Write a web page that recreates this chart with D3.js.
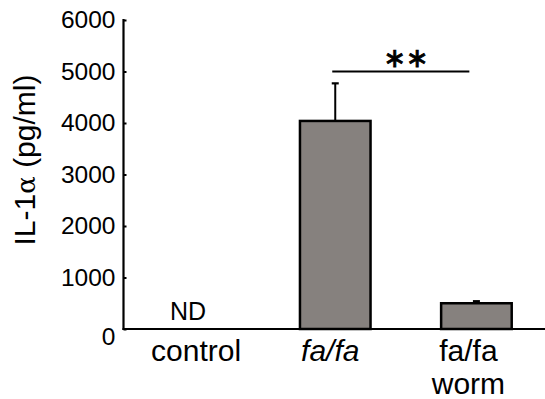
<!DOCTYPE html>
<html>
<head>
<meta charset="utf-8">
<script src="https://cdn.jsdelivr.net/npm/d3@7"></script>
<style>
  body { margin: 0; background: #fff; }
  svg text { font-family: Arial, "Liberation Sans", Helvetica, sans-serif; fill: #000; }
</style>
</head>
<body>
<script>
// data
var groups = ['control', 'fa/fa', 'fa/fa worm'];
var means = [0, 4040, 500];
var errs = [0, 730, 40];
var yTicks = [0, 1000, 2000, 3000, 4000, 5000, 6000];

var width = 545, height = 399;
var svg = d3.select('body').append('svg')
  .attr('width', width)
  .attr('height', height);

var x = d3.scaleBand().domain(groups)
  .range([123.5, 547]).paddingInner(0.5).paddingOuter(0.25);
var y = d3.scaleLinear().domain([0, 6000]).range([329, 20]);

// y axis, small ticks pointing inward
var yAxis = svg.append('g').attr('transform', 'translate(123.5,0)')
  .call(d3.axisRight(y).tickValues(yTicks).tickSize(3).tickFormat(d3.format('d')));
yAxis.select('.domain').remove();
yAxis.selectAll('line').attr('stroke', '#000').attr('stroke-width', 2);
yAxis.selectAll('text')
  .attr('x', -8).attr('text-anchor', 'end')
  .style('font-size', '24.5px');
yAxis.selectAll('.tick').filter(function (d) { return d === 0; })
  .select('text').attr('dy', '0.62em');
svg.append('line')
  .attr('x1', 123.5).attr('x2', 123.5)
  .attr('y1', y(6000) - 1).attr('y2', y(0) + 1)
  .attr('stroke', '#000').attr('stroke-width', 2.2);
svg.append('line')
  .attr('x1', 122.5).attr('x2', 545)
  .attr('y1', y(0)).attr('y2', y(0))
  .attr('stroke', '#000').attr('stroke-width', 2.2);

// bars (control not detected)
var barData = groups.map(function (g, i) { return { g: g, v: means[i], e: errs[i] }; })
  .filter(function (d) { return d.v > 0; });

svg.selectAll('.err').data(barData).enter().append('line')
  .attr('x1', function (d) { return x(d.g) + x.bandwidth() / 2; })
  .attr('x2', function (d) { return x(d.g) + x.bandwidth() / 2; })
  .attr('y1', function (d) { return y(d.v); })
  .attr('y2', function (d) { return y(d.v + d.e); })
  .attr('stroke', '#000').attr('stroke-width', 2);
svg.selectAll('.cap').data(barData).enter().append('line')
  .attr('x1', function (d) { return x(d.g) + x.bandwidth() / 2 - 3.5; })
  .attr('x2', function (d) { return x(d.g) + x.bandwidth() / 2 + 3.5; })
  .attr('y1', function (d) { return y(d.v + d.e); })
  .attr('y2', function (d) { return y(d.v + d.e); })
  .attr('stroke', '#000').attr('stroke-width', 2.2);

svg.selectAll('.bar').data(barData).enter().append('rect')
  .attr('x', function (d) { return x(d.g); })
  .attr('y', function (d) { return y(d.v); })
  .attr('width', x.bandwidth())
  .attr('height', function (d) { return y(0) - y(d.v); })
  .attr('fill', '#86817e')
  .attr('stroke', '#000').attr('stroke-width', 2.5);

svg.append('text')
  .attr('x', x('control') + x.bandwidth() / 2 - 6)
  .attr('y', 320)
  .attr('text-anchor', 'middle')
  .style('font-size', '25px')
  .text('ND');

// significance bracket
var sx1 = x('fa/fa') + x.bandwidth() / 2 - 3;
var sx2 = x('fa/fa worm') + x.bandwidth() * 0.4;
svg.append('line')
  .attr('x1', sx1).attr('x2', sx2)
  .attr('y1', 71.5).attr('y2', 71.5)
  .attr('stroke', '#000').attr('stroke-width', 2);
svg.append('text')
  .attr('x', 406).attr('y', 67)
  .attr('text-anchor', 'middle')
  .style('font-family', '"DejaVu Sans", sans-serif')
  .style('font-size', '27px')
  .style('stroke', '#000').style('stroke-width', 0.8)
  .text('\u2217\u2217');

// category labels
var labelLines = [['control'], ['fa/fa'], ['fa/fa', 'worm']];
var labelShift = [2, -5, -8];
groups.forEach(function (g, i) {
  var t = svg.append('text')
    .attr('x', x(g) + x.bandwidth() / 2 + labelShift[i])
    .attr('y', 361)
    .attr('text-anchor', 'middle')
    .style('font-size', '30px')
    .style('font-style', i === 1 ? 'italic' : 'normal');
  labelLines[i].forEach(function (s, j) {
    t.append('tspan')
      .attr('x', x(g) + x.bandwidth() / 2 + labelShift[i])
      .attr('dy', j === 0 ? 0 : 33)
      .text(s);
  });
});

// y label
var yl = svg.append('text')
  .attr('transform', 'translate(35,160) rotate(-90)')
  .attr('text-anchor', 'middle')
  .style('font-size', '30px');
yl.append('tspan').text('IL-1');
yl.append('tspan').style('font-family', '"DejaVu Serif", serif').style('font-size', '26px').text('\u03b1');
yl.append('tspan').text(' (pg/ml)');
</script>
</body>
</html>
